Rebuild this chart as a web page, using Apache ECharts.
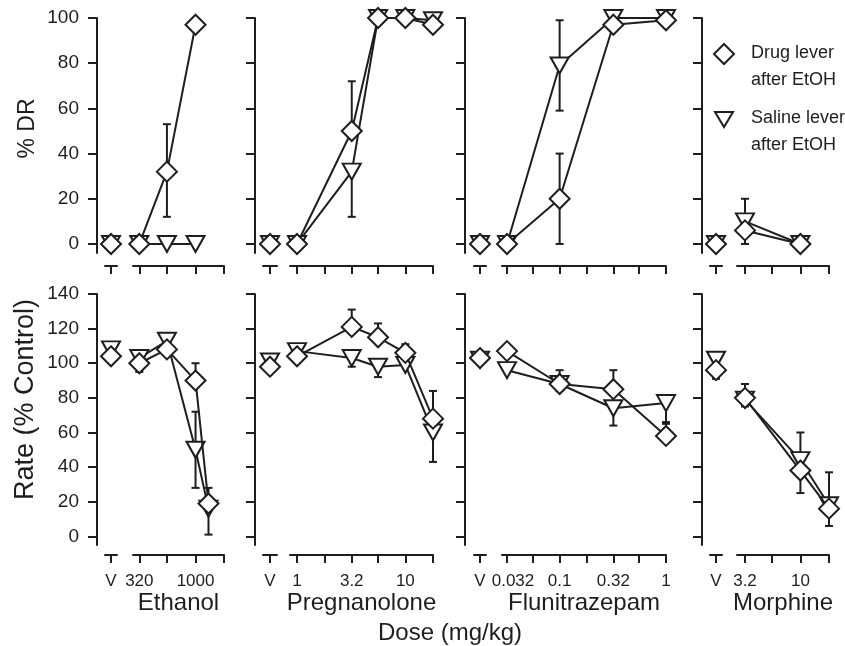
<!DOCTYPE html>
<html>
<head>
<meta charset="utf-8">
<title>Discriminative stimulus effects after EtOH</title>
<script src="https://cdn.jsdelivr.net/npm/echarts@6/dist/echarts.min.js"></script>
<style>
html, body { margin: 0; padding: 0; background: #fff; }
#main { width: 845px; height: 646px; }
</style>
</head>
<body>
<div id="main"></div>
<script>
// values
var drugNames = ['Ethanol', 'Pregnanolone', 'Flunitrazepam', 'Morphine'];
var drugLever = 'Drug lever after EtOH';
var salineLever = 'Saline lever after EtOH';

var drTicks = [0, 20, 40, 60, 80, 100];
var rateTicks = [0, 20, 40, 60, 80, 100, 120, 140];

// vehicle (V) points, one per drug
var vehDrDrug = [0, 0, 0, 0];
var vehDrSaline = [0, 0, 0, 0];
var vehRateDrug = [104, 98, 103, 96];
var vehRateSaline = [108, 101, 102, 102];
var vehRateDrugErr = [null, null, null, [91, 96]];
var vehRateSalineErr = [null, null, null, null];

// ethanol
var ethanolDoses = [320, 560, 1000, 1300];
var ethanolTicks = [320, 560, 1000, 1780];
var ethanolTickLabels = ['320', '', '1000', ''];
var ethanolDrDrug = [0, 32, 97, null];
var ethanolDrSaline = [0, 0, 0, null];
var ethanolDrDrugErr = [null, [12, 53], null, null];
var ethanolDrSalineErr = [null, null, null, null];
var ethanolRateDrug = [100, 108, 90, 19];
var ethanolRateSaline = [103, 113, 50, 16];
var ethanolRateDrugErr = [[95, 100], null, [90, 100], null];
var ethanolRateSalineErr = [null, [113, 116], [28, 72], [1, 28]];

// pregnanolone
var pregDoses = [1, 3.2, 5.6, 10, 18];
var pregTicks = [1, 1.8, 3.2, 5.6, 10, 18];
var pregTickLabels = ['1', '', '3.2', '', '10', ''];
var pregDrDrug = [0, 50, 100, 100, 97];
var pregDrSaline = [0, 32, 100, 100, 99];
var pregDrDrugErr = [null, [50, 72], null, null, null];
var pregDrSalineErr = [null, [12, 32], null, null, null];
var pregRateDrug = [104, 121, 115, 106, 68];
var pregRateSaline = [107, 103, 98, 99, 60];
var pregRateDrugErr = [null, [121, 131], [115, 123], [106, 111], [68, 84]];
var pregRateSalineErr = [null, [98, 103], [92, 98], null, [43, 60]];

// flunitrazepam
var fluDoses = [0.032, 0.1, 0.32, 1];
var fluTicks = [0.032, 0.056, 0.1, 0.18, 0.32, 0.56, 1];
var fluTickLabels = ['0.032', '', '0.1', '', '0.32', '', '1'];
var fluDrDrug = [0, 20, 97, 99];
var fluDrSaline = [0, 79, 100, 100];
var fluDrDrugErr = [null, [0, 40], null, null];
var fluDrSalineErr = [null, [59, 99], null, null];
var fluRateDrug = [107, 88, 85, 58];
var fluRateSaline = [96, 88, 74, 77];
var fluRateDrugErr = [null, [88, 96], [85, 96], [58, 65]];
var fluRateSalineErr = [null, [84, 88], [64, 74], [66, 77]];

// morphine
var morDoses = [3.2, 10, 18];
var morTicks = [3.2, 5.6, 10, 18];
var morTickLabels = ['3.2', '', '10', ''];
var morDrDrug = [6, 0, null];
var morDrSaline = [10, 0, null];
var morDrDrugErr = [[0, 6], null, null];
var morDrSalineErr = [[10, 20], null, null];
var morRateDrug = [80, 38, 16];
var morRateSaline = [79, 44, 18];
var morRateDrugErr = [[80, 88], [25, 38], [6, 16]];
var morRateSalineErr = [[75, 79], [44, 60], [18, 37]];

var drugs = [
    { doses: ethanolDoses, ticks: ethanolTicks, tickLabels: ethanolTickLabels,
      dr: [ethanolDrDrug, ethanolDrSaline], drErr: [ethanolDrDrugErr, ethanolDrSalineErr],
      rate: [ethanolRateDrug, ethanolRateSaline], rateErr: [ethanolRateDrugErr, ethanolRateSalineErr] },
    { doses: pregDoses, ticks: pregTicks, tickLabels: pregTickLabels,
      dr: [pregDrDrug, pregDrSaline], drErr: [pregDrDrugErr, pregDrSalineErr],
      rate: [pregRateDrug, pregRateSaline], rateErr: [pregRateDrugErr, pregRateSalineErr] },
    { doses: fluDoses, ticks: fluTicks, tickLabels: fluTickLabels,
      dr: [fluDrDrug, fluDrSaline], drErr: [fluDrDrugErr, fluDrSalineErr],
      rate: [fluRateDrug, fluRateSaline], rateErr: [fluRateDrugErr, fluRateSalineErr] },
    { doses: morDoses, ticks: morTicks, tickLabels: morTickLabels,
      dr: [morDrDrug, morDrSaline], drErr: [morDrDrugErr, morDrSalineErr],
      rate: [morRateDrug, morRateSaline], rateErr: [morRateDrugErr, morRateSalineErr] }
];

// layout
var ink = '#1e1e1e';
var font = 'Liberation Sans, Arial, Helvetica, sans-serif';
var diamond = 'path://M10,0 L20,10 L10,20 L0,10 Z';
var triangle = 'path://M0,0 L18,0 L9,15 Z';

var panelLayout = [
    { vLeft: 105, vWidth: 12, yOffset: 8, dLeft: 133, dWidth: 91, lead: 0.0555 },
    { vLeft: 263, vWidth: 14, yOffset: 8, dLeft: 290, dWidth: 143, lead: 0.0648 },
    { vLeft: 474, vWidth: 12, yOffset: 9, dLeft: 502, dWidth: 164, lead: 0.047 },
    { vLeft: 710, vWidth: 12, yOffset: 8, dLeft: 737, dWidth: 92, lead: 0.0714 }
];

var rows = [
    { key: 'dr', top: 18, height: 235, min: -4, max: 100, ticks: drTicks, name: '% DR', nameSize: 23,
      nameGap: 58, namePad: [0, 0, 0, 14], xOffset: 13, veh: [vehDrDrug, vehDrSaline], vehErr: [[null, null, null, null], [null, null, null, null]] },
    { key: 'rate', top: 294, height: 251, min: -5, max: 140, ticks: rateTicks, name: 'Rate (% Control)', nameSize: 27,
      nameGap: 58, namePad: [0, 0, 0, 40], xOffset: 10, veh: [vehRateDrug, vehRateSaline], vehErr: [vehRateDrugErr, vehRateSalineErr] }
];

var seriesNames = [drugLever, salineLever];
var symbols = [diamond, triangle];
var symbolSizes = [20, [18, 16]];

function lg(d) {
    return Math.log10(d);
}

function renderErr(params, api) {
    var x = api.value(0);
    var lo = api.coord([x, api.value(1)]);
    var hi = api.coord([x, api.value(2)]);
    var w = 4;
    var style = { stroke: ink, lineWidth: 2, fill: null };
    return {
        type: 'group',
        children: [
            { type: 'line', shape: { x1: lo[0], y1: lo[1], x2: hi[0], y2: hi[1] }, style: style },
            { type: 'line', shape: { x1: hi[0] - w, y1: hi[1], x2: hi[0] + w, y2: hi[1] }, style: style },
            { type: 'line', shape: { x1: lo[0] - w, y1: lo[1], x2: lo[0] + w, y2: lo[1] }, style: style }
        ]
    };
}

var axisLine = { show: true, onZero: false, lineStyle: { color: ink, width: 2 } };
var tickStyle = { color: ink, width: 2 };

var option = {
    animation: false,
    textStyle: { fontFamily: font, color: ink },
    title: {
        text: 'Dose (mg/kg)',
        left: 373,
        top: 616,
        textStyle: { fontSize: 24, fontWeight: 'normal', color: ink, fontFamily: font }
    },
    legend: {
        orient: 'vertical',
        left: 708,
        top: 35,
        itemWidth: 44,
        itemHeight: 46,
        itemGap: 11,
        selectedMode: false,
        formatter: function (name) {
            return name.replace(' after', '\nafter');
        },
        textStyle: { fontSize: 18, lineHeight: 27, color: ink, fontFamily: font },
        itemStyle: { color: '#fff', borderColor: ink, borderWidth: 2 },
        data: [
            { name: drugLever, icon: 'path://M10,0 L20,10 L10,20 L0,10 Z M10,46' },
            { name: salineLever, icon: 'path://M9,-3 M0,0 L18,0 L9,15 Z M9,43' }
        ]
    },
    grid: [],
    xAxis: [],
    yAxis: [],
    series: []
};

rows.forEach(function (row, r) {
    drugs.forEach(function (drug, p) {
        var lay = panelLayout[p];
        var gV = option.grid.length;
        var gD = gV + 1;
        var showLabels = r === 1;

        option.grid.push({ left: lay.vLeft, width: lay.vWidth, top: row.top, height: row.height });
        option.grid.push({ left: lay.dLeft, width: lay.dWidth, top: row.top, height: row.height });

        // vehicle grid axes
        option.xAxis.push({
            gridIndex: gV, type: 'value', min: 0, max: 2, offset: row.xOffset,
            axisLine: axisLine,
            axisTick: { show: true, length: 8, customValues: [1], lineStyle: tickStyle },
            axisLabel: { show: showLabels, customValues: [1], formatter: function () { return 'V'; },
                margin: 18, fontSize: 17, color: ink, fontFamily: font },
            splitLine: { show: false }
        });
        option.yAxis.push({
            gridIndex: gV, type: 'value', min: row.min, max: row.max, position: 'left', offset: lay.yOffset,
            axisLine: axisLine,
            axisTick: { show: true, length: 9, customValues: row.ticks, lineStyle: tickStyle },
            axisLabel: { show: p === 0, customValues: row.ticks, margin: 18, fontSize: 19, color: ink, fontFamily: font },
            splitLine: { show: false },
            name: p === 0 ? row.name : '',
            nameLocation: 'middle',
            nameGap: row.nameGap,
            nameTextStyle: { fontSize: row.nameSize, color: ink, fontFamily: font, padding: row.namePad }
        });

        // dose grid axes (log10 dose)
        var tickVals = drug.ticks.map(lg);
        var labelVals = [];
        drug.ticks.forEach(function (t, i) {
            if (drug.tickLabels[i] !== '') labelVals.push(lg(t));
        });
        option.xAxis.push({
            gridIndex: gD, type: 'value',
            min: tickVals[0] - lay.lead, max: tickVals[tickVals.length - 1],
            offset: row.xOffset,
            axisLine: axisLine,
            axisTick: { show: true, length: 8, customValues: tickVals, lineStyle: tickStyle },
            axisLabel: {
                show: showLabels, customValues: labelVals, margin: 18, fontSize: 17, color: ink, fontFamily: font,
                formatter: function (v) {
                    var best = 0;
                    tickVals.forEach(function (t, i) {
                        if (Math.abs(t - v) < Math.abs(tickVals[best] - v)) best = i;
                    });
                    var txt = drug.tickLabels[best];
                    // long first label sits a little right of its tick
                    return (best === 0 && txt.length > 3) ? '{shift|' + txt + '}' : txt;
                },
                rich: { shift: { fontSize: 17, color: ink, fontFamily: font, padding: [0, 0, 0, 12] } }
            },
            splitLine: { show: false },
            name: showLabels ? drugNames[p] : '',
            nameLocation: 'middle',
            nameGap: 33,
            nameTextStyle: { fontSize: 24, color: ink, fontFamily: font }
        });
        option.yAxis.push({
            gridIndex: gD, type: 'value', min: row.min, max: row.max, show: false
        });

        var vals = drug[row.key];
        var errs = drug[row.key + 'Err'];

        // draw saline first so diamonds sit on top
        [1, 0].forEach(function (k) {
            var ve = row.vehErr[k][p];
            var doseErr = [];
            errs[k].forEach(function (e, i) {
                if (e) doseErr.push([lg(drug.doses[i]), e[0], e[1]]);
            });
            if (ve) {
                option.series.push({
                    type: 'custom', xAxisIndex: gV, yAxisIndex: gV, z: 1,
                    renderItem: renderErr, encode: { x: 0, y: [1, 2] },
                    data: [[1, ve[0], ve[1]]], silent: true
                });
            }
            if (doseErr.length) {
                option.series.push({
                    type: 'custom', xAxisIndex: gD, yAxisIndex: gD, z: 1,
                    renderItem: renderErr, encode: { x: 0, y: [1, 2] },
                    data: doseErr, silent: true
                });
            }

            var common = {
                type: 'line',
                name: seriesNames[k],
                symbol: symbols[k],
                symbolSize: symbolSizes[k],
                showAllSymbol: true,
                z: k === 0 ? 4 : 3,
                itemStyle: { color: '#fff', borderColor: ink, borderWidth: 2 },
                lineStyle: { color: ink, width: 2 },
                emphasis: { disabled: true },
                silent: true
            };

            option.series.push(Object.assign({}, common, {
                xAxisIndex: gV, yAxisIndex: gV,
                data: [[1, row.veh[k][p]]]
            }));

            var pts = [];
            vals[k].forEach(function (v, i) {
                if (v !== null) pts.push([lg(drug.doses[i]), v]);
            });
            option.series.push(Object.assign({}, common, {
                xAxisIndex: gD, yAxisIndex: gD,
                data: pts
            }));
        });
    });
});

var myChart = echarts.init(document.getElementById('main'));
myChart.setOption(option);
</script>
</body>
</html>
